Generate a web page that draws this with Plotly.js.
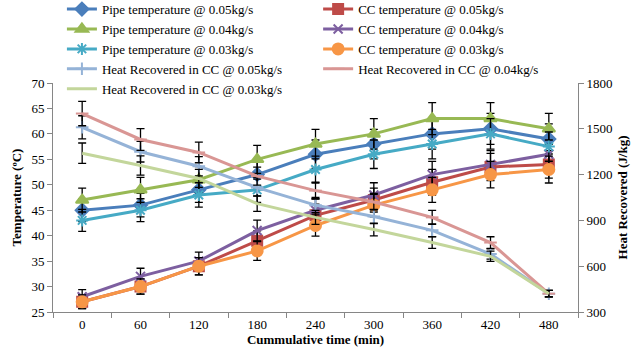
<!DOCTYPE html>
<html>
<head>
<meta charset="utf-8">
<script src="https://cdn.plot.ly/plotly-3.0.1.min.js"></script>
<style>html,body{margin:0;padding:0;background:#fff}#chart{width:637px;height:360px}</style>
</head>
<body>
<div id="chart"></div>
<script>
var times = ['0','60','120','180','240','300','360','420','480'];
var pipe05 = [45, 46, 49, 52, 56, 58, 60, 61, 59];
var cc05   = [27, 30, 34, 39, 44, 47, 50.5, 53.5, 54];
var pipe04 = [47, 49, 51, 55, 58, 60, 63, 63, 61];
var cc04   = [28, 32, 35, 41, 45, 48, 52, 54, 56];
var pipe03 = [43, 45, 48, 49, 53, 56, 58, 60, 57.5];
var cc03   = [27, 30, 34, 37, 42, 46, 49, 52, 53];
var hr05   = [1510, 1350, 1255, 1115, 1000, 925, 835, 680, 420];
var hr04   = [1600, 1430, 1345, 1190, 1095, 1020, 920, 755, 420];
var hr03   = [1340, 1260, 1175, 1010, 920, 840, 755, 665, 420];
var errPct = 5;

function tr(name, y, color, symbol, size, axis, leg) {
  var t = {
    x: times, y: y, name: name, type: 'scatter', mode: symbol ? 'lines+markers' : 'lines',
    line: {color: color, width: 3},
    error_y: {type: 'percent', value: errPct, color: '#000', thickness: 1.3, width: 4},
    yaxis: axis || 'y', legend: leg
  };
  if (symbol) t.marker = {symbol: symbol, size: size, color: color, line: {color: color, width: 2}};
  return t;
}

var data = [
  tr('Pipe temperature @ 0.05kg/s', pipe05, '#4A7EBB', 'diamond', 10, 'y', 'legend'),
  tr('CC temperature @ 0.05kg/s', cc05, '#BE4B48', 'square', 10, 'y', 'legend2'),
  tr('Pipe temperature @ 0.04kg/s', pipe04, '#98B954', 'triangle-up', 11, 'y', 'legend'),
  tr('CC temperature @ 0.04kg/s', cc04, '#7D5FA0', 'x-thin-open', 9, 'y', 'legend2'),
  tr('Pipe temperature @ 0.03kg/s', pipe03, '#46AAC5', 'asterisk-open', 10, 'y', 'legend'),
  tr('CC temperature @ 0.03kg/s', cc03, '#F79646', 'circle', 11, 'y', 'legend2'),
  tr('Heat Recovered in CC @ 0.05kg/s', hr05, '#95B3D7', 'cross-thin-open', 9, 'y2', 'legend'),
  tr('Heat Recovered in CC @ 0.04kg/s', hr04, '#D99694', 'line-ew-open', 9, 'y2', 'legend2'),
  tr('Heat Recovered in CC @ 0.03kg/s', hr03, '#C3D69B', null, 0, 'y2', 'legend')
];

var font = {family: 'Liberation Serif', size: 13, color: '#000'};
var legBase = {orientation: 'v', yanchor: 'top', y: 1.388, font: font,
               bgcolor: 'rgba(0,0,0,0)', itemwidth: 30, traceorder: 'normal'};
var layout = {
  width: 637, height: 360,
  margin: {l: 53, r: 59, t: 83, b: 48, autoexpand: false},
  paper_bgcolor: '#fff', plot_bgcolor: '#fff',
  font: font,
  showlegend: true,
  legend: Object.assign({}, legBase, {x: 0.017, xanchor: 'left'}),
  legend2: Object.assign({}, legBase, {x: 0.505, xanchor: 'left'}),
  xaxis: {
    type: 'category', range: [-0.5, 8.5], tickson: 'boundaries',
    showline: true, linecolor: '#868686', linewidth: 1,
    ticks: 'outside', ticklen: 5, tickcolor: '#868686',
    showgrid: false, zeroline: false, tickfont: font,
    title: {text: '<b>Cummulative time (min)</b>', font: font, standoff: 4}
  },
  yaxis: {
    range: [25, 70], dtick: 5, showline: true, linecolor: '#868686', linewidth: 1,
    ticks: 'outside', ticklen: 5, tickcolor: '#868686',
    showgrid: false, zeroline: false, tickfont: font,
    title: {text: '<b>Temperature (ºC)</b>', font: font, standoff: 6}
  },
  yaxis2: {
    range: [300, 1800], dtick: 300, overlaying: 'y', side: 'right',
    showline: true, linecolor: '#868686', linewidth: 1,
    ticks: 'outside', ticklen: 5, tickcolor: '#868686',
    showgrid: false, zeroline: false, tickfont: font,
    title: {text: '<b>Heat Recovered (J/kg)</b>', font: font, standoff: 6}
  }
};

Plotly.newPlot('chart', data, layout, {displayModeBar: false, staticPlot: true});
</script>
</body>
</html>
